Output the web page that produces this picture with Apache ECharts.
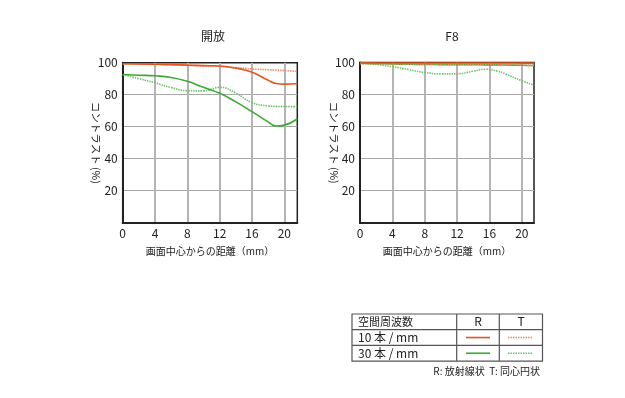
<!DOCTYPE html>
<html>
	<head>
		<meta charset="utf-8" />
		<title>MTF</title>
		<script src="https://cdn.jsdelivr.net/npm/echarts@6/dist/echarts.min.js"></script>
		<style>
			html,body{margin:0;padding:0;background:#fff;}
			#chart{width:625px;height:398px;}
		</style>
	</head>
	<body>
		<div id="chart"></div>
	</body>
	<script type="text/javascript">
// 開放
var openX = [0, 2, 4, 6, 8, 10, 12, 14, 16, 18, 19, 20, 21.6];
var openR10 = [99.3, 99.2, 99.0, 98.8, 98.5, 98.2, 97.9, 96.6, 94.0, 89.0, 87.0, 86.6, 86.8];
var openT10 = [99.2, 99.1, 98.9, 98.7, 98.4, 98.0, 97.6, 96.9, 96.1, 95.6, 95.4, 95.1, 94.6];
var openR30 = [92.6, 92.2, 91.8, 90.8, 88.4, 84.6, 80.9, 75.5, 69.4, 63.0, 60.4, 61.0, 64.8];
var openT30 = [92.6, 90.0, 87.4, 84.5, 82.5, 82.4, 84.6, 81.0, 75.0, 73.0, 72.7, 72.6, 72.5];
// F8
var f8X = [0, 2, 4, 6, 8, 10, 12, 14, 15.5, 17, 18, 20, 21.5];
var f8R10 = [99.7, 99.7, 99.7, 99.7, 99.7, 99.7, 99.7, 99.7, 99.7, 99.7, 99.7, 99.6, 99.6];
var f8T10 = [99.3, 99.2, 99.1, 99.0, 99.0, 99.0, 99.0, 99.0, 98.9, 98.8, 98.7, 98.5, 98.2];
var f8R30 = [99.5, 99.3, 99.1, 98.9, 98.8, 98.7, 98.6, 98.6, 98.5, 98.5, 98.4, 98.3, 98.1];
var f8T30 = [99.6, 98.8, 97.4, 95.6, 93.8, 92.9, 93.0, 94.6, 95.8, 94.6, 92.8, 88.6, 85.8];

var yTicks = [0, 20, 40, 60, 80, 100];
var xInterval = 4;
var chartTitles = ['開放', 'F8'];
var xName = '画面中心からの距離（mm）';
var yName = 'コントラスト (%)';

var colR10 = '#e8541e', colT10 = '#f08c5e', colR30 = '#3aaa35', colT30 = '#6cc466';
var font = '"Noto Sans CJK JP", "Noto Sans", sans-serif';

function pairs(xs, ys){
	var out = [];
	for(var i=0;i<xs.length;i++){ out.push([xs[i], ys[i]]); }
	return out;
}

function mkLine(idx, xs, ys, color, dotted, z){
	return {
		type: 'line', xAxisIndex: idx, yAxisIndex: idx,
		data: pairs(xs, ys), smooth: 0.5, showSymbol: false, z: z,
		lineStyle: {color: color, width: 1.6, type: dotted ? [1.5, 1] : 'solid'},
		animation: false
	};
}

function xAxisOf(idx, max){
	return {
		gridIndex: idx, type: 'value', min: 0, max: max, interval: xInterval,
		name: xName, nameLocation: 'middle', nameGap: 24,
		nameTextStyle: {fontFamily: font, fontSize: 10, color: '#222'},
		axisLine: {show: true, onZero: false, lineStyle: {color: '#222', width: 2}},
		axisTick: {show: false},
		axisLabel: {showMaxLabel: false, fontFamily: font, fontSize: 12, color: '#222', margin: 5},
		splitLine: {show: true, showMinLine: false, showMaxLine: false, lineStyle: {color: '#b4b4b4', width: 2}}
	};
}

function yAxisOf(idx){
	return {
		gridIndex: idx, type: 'value', min: yTicks[0], max: yTicks[yTicks.length-1], interval: yTicks[1]-yTicks[0],
		name: yName, nameLocation: 'middle', nameGap: 21, nameRotate: -90, nameMoveOverlap: false,
		nameTextStyle: {fontFamily: font, fontSize: 10.5, color: '#222'},
		axisLine: {show: true, lineStyle: {color: '#222', width: 2}},
		axisTick: {show: false},
		axisLabel: {showMinLabel: false, fontFamily: font, fontSize: 12, color: '#222', margin: 5},
		splitLine: {show: true, showMinLine: false, showMaxLine: false, lineStyle: {color: '#a8a8a8', width: 1}}
	};
}

var myChart = echarts.init(document.getElementById('chart'), null, {renderer: 'canvas'});

var tblLeft = 352, tblRight = 542.5, tblTop = 314, rowH = 15.7;
var col1 = 456.7, col2 = 499.3;
var txt = {fontFamily: font, fontSize: 12, fill: '#222'};

var graphics = [
	{type: 'rect', shape: {x: tblLeft, y: tblTop, width: tblRight-tblLeft, height: rowH*3}, style: {fill: 'none', stroke: '#555', lineWidth: 1.2}},
	{type: 'line', shape: {x1: tblLeft, y1: tblTop+rowH, x2: tblRight, y2: tblTop+rowH}, style: {stroke: '#555', lineWidth: 1.2}},
	{type: 'line', shape: {x1: tblLeft, y1: tblTop+rowH*2, x2: tblRight, y2: tblTop+rowH*2}, style: {stroke: '#555', lineWidth: 1.2}},
	{type: 'line', shape: {x1: col1, y1: tblTop, x2: col1, y2: tblTop+rowH*3}, style: {stroke: '#555', lineWidth: 1.2}},
	{type: 'line', shape: {x1: col2, y1: tblTop, x2: col2, y2: tblTop+rowH*3}, style: {stroke: '#555', lineWidth: 1.2}},
	{type: 'text', x: 358, y: tblTop+rowH/2, style: Object.assign({text: '空間周波数', verticalAlign: 'middle'}, txt, {fontSize: 11})},
	{type: 'text', x: 478, y: tblTop+rowH/2, style: Object.assign({text: 'R', verticalAlign: 'middle', align: 'center'}, txt)},
	{type: 'text', x: 521, y: tblTop+rowH/2, style: Object.assign({text: 'T', verticalAlign: 'middle', align: 'center'}, txt)},
	{type: 'text', x: 358, y: tblTop+rowH*1.5, style: Object.assign({text: '10 本 / mm', verticalAlign: 'middle'}, txt)},
	{type: 'text', x: 358, y: tblTop+rowH*2.5, style: Object.assign({text: '30 本 / mm', verticalAlign: 'middle'}, txt)},
	{type: 'line', shape: {x1: 466, y1: tblTop+rowH*1.5, x2: 490, y2: tblTop+rowH*1.5}, style: {stroke: colR10, lineWidth: 1.6}},
	{type: 'line', shape: {x1: 508, y1: tblTop+rowH*1.5, x2: 533, y2: tblTop+rowH*1.5}, style: {stroke: colT10, lineWidth: 1.6, lineDash: [1.5, 1]}},
	{type: 'line', shape: {x1: 466, y1: tblTop+rowH*2.5, x2: 490, y2: tblTop+rowH*2.5}, style: {stroke: colR30, lineWidth: 1.6}},
	{type: 'line', shape: {x1: 508, y1: tblTop+rowH*2.5, x2: 533, y2: tblTop+rowH*2.5}, style: {stroke: colT30, lineWidth: 1.6, lineDash: [1.5, 1]}},
	{type: 'text', x: 540, y: 371, style: Object.assign({text: 'R: 放射線状  T: 同心円状', verticalAlign: 'middle', align: 'right'}, txt, {fontSize: 10})}
];

var option = {
	animation: false,
	title: [
		{text: chartTitles[0], left: 208, top: 25, textAlign: 'center', textStyle: {fontFamily: font, fontSize: 12, fontWeight: 'normal', color: '#222'}},
		{text: chartTitles[1], left: 447, top: 25, textAlign: 'center', textStyle: {fontFamily: font, fontSize: 12, fontWeight: 'normal', color: '#222'}}
	],
	grid: [
		{left: 122.7, top: 62.7, width: 174.6, height: 160, show: true, borderColor: '#222', borderWidth: 1.5, backgroundColor: 'transparent'},
		{left: 360, top: 62.5, width: 174, height: 160.2, show: true, borderColor: '#222', borderWidth: 1.5, backgroundColor: 'transparent'}
	],
	xAxis: [xAxisOf(0, openX[openX.length-1]), xAxisOf(1, f8X[f8X.length-1])],
	yAxis: [yAxisOf(0), yAxisOf(1)],
	series: [
		mkLine(0, openX, openT30, colT30, true, 2),
		mkLine(0, openX, openR30, colR30, false, 3),
		mkLine(0, openX, openT10, colT10, true, 4),
		mkLine(0, openX, openR10, colR10, false, 5),
		mkLine(1, f8X, f8T30, colT30, true, 2),
		mkLine(1, f8X, f8R30, colR30, false, 3),
		mkLine(1, f8X, f8T10, colT10, true, 4),
		mkLine(1, f8X, f8R10, colR10, false, 5)
	],
	graphic: graphics
};
myChart.setOption(option);
	</script>
</html>
